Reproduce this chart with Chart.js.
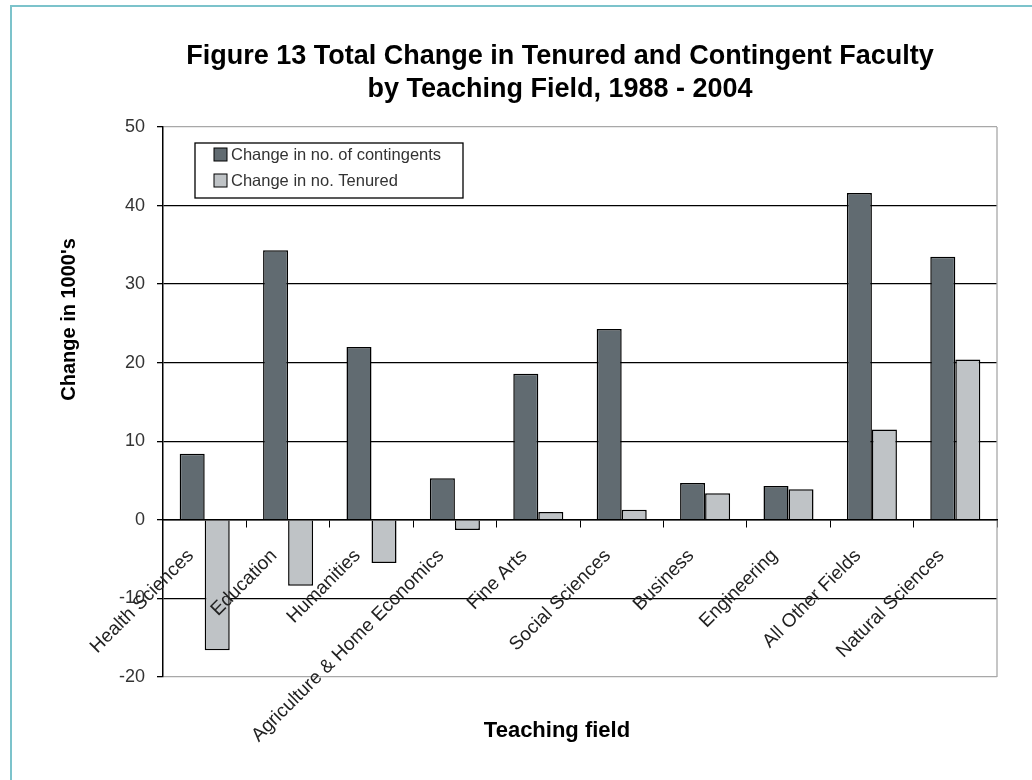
<!DOCTYPE html>
<html>
<head>
<meta charset="utf-8">
<title>Figure 13</title>
<script src="https://cdn.jsdelivr.net/npm/chart.js@4.4.1/dist/chart.umd.min.js"></script>
<style>
  html, body { margin: 0; padding: 0; background: #fff; overflow: hidden; }
  #frame {
    position: absolute; left: 10px; top: 5px; width: 1100px; height: 800px;
    border-left: 2px solid #7cc3cb; border-top: 2px solid #7cc3cb;
  }
  #wrap { position: absolute; left: 0; top: 0; width: 1032px; height: 780px; }
</style>
</head>
<body>
<div id="frame"></div>
<div id="wrap"><canvas id="myChart" width="1032" height="780"></canvas></div>
<script>
// data (thousands)
const fields = ['Health Sciences', 'Education', 'Humanities', 'Agriculture & Home Economics',
  'Fine Arts', 'Social Sciences', 'Business', 'Engineering', 'All Other Fields', 'Natural Sciences'];
const contingents = [8.4, 34.3, 22.0, 5.3, 18.6, 24.3, 4.7, 4.3, 41.6, 33.5];
const tenured = [-16.6, -8.4, -5.5, -1.3, 1.0, 1.3, 3.4, 3.9, 11.5, 20.4];

const titleLines = ['Figure 13 Total Change in Tenured and Contingent Faculty', 'by Teaching Field, 1988 - 2004'];
const xTitle = 'Teaching field';
const yTitle = "Change in 1000's";

const darkGrey = '#616b71';
const lightGrey = '#bfc3c6';

// title, axis titles, plot frame and the boxed legend inside the plot
const extras = {
  id: 'extras',
  beforeDatasetsDraw(chart) {
    const { ctx, chartArea } = chart;
    ctx.save();
    ctx.strokeStyle = '#a8a8a8';
    ctx.lineWidth = 1.3;
    ctx.beginPath();
    ctx.moveTo(chartArea.right, chartArea.top);
    ctx.lineTo(chartArea.right, chartArea.bottom);
    ctx.stroke();
    ctx.restore();
  },
  afterDraw(chart) {
    const { ctx, chartArea } = chart;
    const cx = (chartArea.left + chartArea.right) / 2 - 20;
    ctx.save();
    ctx.fillStyle = '#000';
    ctx.textAlign = 'center';
    ctx.textBaseline = 'middle';
    ctx.font = 'bold 27px "Liberation Sans", sans-serif';
    ctx.fillText(titleLines[0], cx, 57);
    ctx.fillText(titleLines[1], cx, 90);
    ctx.font = 'bold 22px "Liberation Sans Narrow", "Liberation Sans", sans-serif';
    ctx.fillText(xTitle, cx - 3, 731);

    // y title sits beside the positive half of the axis
    const y = chart.scales.y;
    ctx.save();
    ctx.translate(69, (y.getPixelForValue(50) + y.getPixelForValue(0)) / 2 - 4);
    ctx.rotate(-Math.PI / 2);
    ctx.font = 'bold 20px "Liberation Sans", sans-serif';
    ctx.fillText(yTitle, 0, 0);
    ctx.restore();

    // legend box
    const lx = chartArea.left + 32, ly = chartArea.top + 16;
    ctx.fillStyle = '#fff';
    ctx.fillRect(lx, ly, 268, 55);
    ctx.strokeStyle = '#000';
    ctx.lineWidth = 1.3;
    ctx.strokeRect(lx, ly, 268, 55);
    ctx.textAlign = 'left';
    ctx.font = '16.5px "Liberation Sans", sans-serif';
    chart.data.datasets.forEach((ds, i) => {
      const ry = ly + 11 + i * 26;
      ctx.fillStyle = ds.backgroundColor;
      ctx.fillRect(lx + 19, ry - 6, 13, 13);
      ctx.strokeStyle = '#000';
      ctx.lineWidth = 1;
      ctx.strokeRect(lx + 19, ry - 6, 13, 13);
      ctx.fillStyle = '#333';
      ctx.fillText(ds.label, lx + 36, ry + 1);
    });
    ctx.restore();
  }
};

const context = document.getElementById('myChart').getContext('2d');
const myChart = new Chart(context, {
  type: 'bar',
  data: {
    labels: fields,
    datasets: [
      {
        label: 'Change in no. of contingents',
        data: contingents,
        backgroundColor: darkGrey,
        borderColor: '#000',
        borderWidth: 1.5,
        categoryPercentage: 0.6,
        barPercentage: 1
      },
      {
        label: 'Change in no. Tenured',
        data: tenured,
        backgroundColor: lightGrey,
        borderColor: '#000',
        borderWidth: 1.5,
        categoryPercentage: 0.6,
        barPercentage: 1
      }
    ]
  },
  options: {
    responsive: false,
    animation: false,
    layout: { padding: { top: 127, bottom: 103, left: 60, right: 35 } },
    scales: {
      x: {
        position: { y: 0 },
        grid: {
          drawOnChartArea: false,
          drawTicks: true,
          tickLength: 7,
          tickColor: '#000',
          offset: true
        },
        border: { color: '#000', width: 1.5, z: 1 },
        ticks: {
          z: 1, // labels sit on top of the negative bars
          minRotation: 45,
          maxRotation: 45,
          autoSkip: false,
          padding: 18,
          labelOffset: -14,
          color: '#222',
          font: { family: '"Liberation Sans", sans-serif', size: 19 }
        }
      },
      y: {
        min: -20,
        max: 50,
        afterFit(scale) { scale.width = 103; },
        ticks: {
          stepSize: 10,
          padding: 12,
          color: '#333',
          font: { family: '"Liberation Sans", sans-serif', size: 18 }
        },
        grid: {
          color: (c) => (c.tick && (c.tick.value === 50 || c.tick.value === -20)) ? '#a8a8a8' : '#000',
          lineWidth: 1.3,
          tickColor: '#000',
          tickLength: 6
        },
        border: { color: '#000', width: 1.5 }
      }
    },
    plugins: {
      legend: { display: false },
      tooltip: { enabled: false }
    }
  },
  plugins: [extras]
});
</script>
</body>
</html>
